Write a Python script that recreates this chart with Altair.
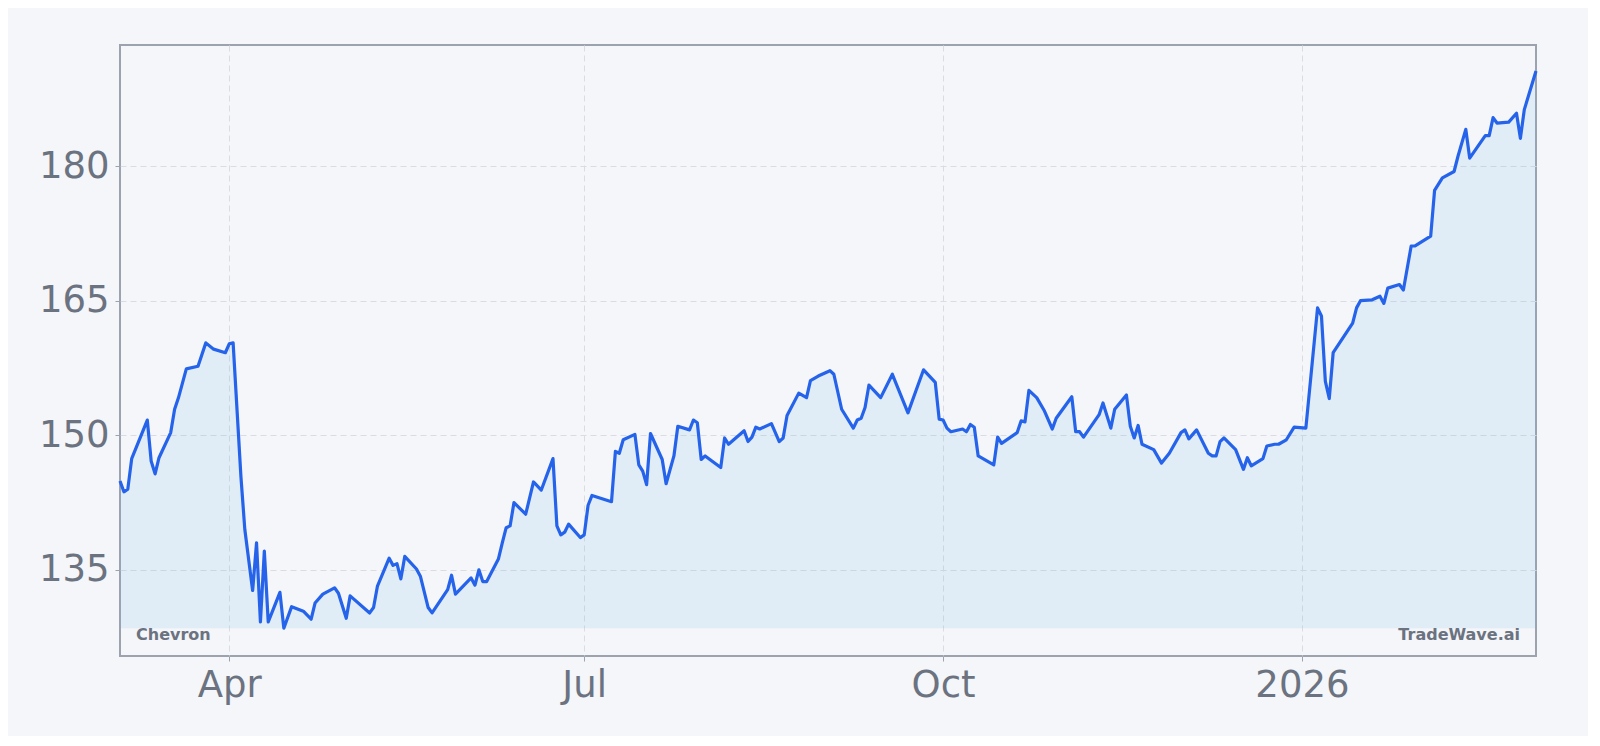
import altair as alt
import pandas as pd

# ---- data ----
dates = [
    "2025-03-04", "2025-03-05", "2025-03-06", "2025-03-07", "2025-03-11", "2025-03-12",
    "2025-03-13", "2025-03-14", "2025-03-17", "2025-03-18", "2025-03-19", "2025-03-21",
    "2025-03-24", "2025-03-26", "2025-03-28", "2025-03-31", "2025-04-01", "2025-04-02",
    "2025-04-04", "2025-04-05", "2025-04-07", "2025-04-08", "2025-04-09", "2025-04-10",
    "2025-04-11", "2025-04-14", "2025-04-15", "2025-04-17", "2025-04-20", "2025-04-22",
    "2025-04-23", "2025-04-25", "2025-04-28", "2025-04-29", "2025-05-01", "2025-05-02",
    "2025-05-07", "2025-05-08", "2025-05-09", "2025-05-12", "2025-05-13", "2025-05-14",
    "2025-05-15", "2025-05-16", "2025-05-19", "2025-05-20", "2025-05-22", "2025-05-23",
    "2025-05-27", "2025-05-28", "2025-05-29", "2025-06-02", "2025-06-03", "2025-06-04",
    "2025-06-05", "2025-06-06", "2025-06-09", "2025-06-10", "2025-06-11", "2025-06-12",
    "2025-06-13", "2025-06-16", "2025-06-18", "2025-06-20", "2025-06-23", "2025-06-24",
    "2025-06-25", "2025-06-26", "2025-06-27", "2025-06-30", "2025-07-01", "2025-07-02",
    "2025-07-03", "2025-07-08", "2025-07-09", "2025-07-10", "2025-07-11", "2025-07-14",
    "2025-07-15", "2025-07-16", "2025-07-17", "2025-07-18", "2025-07-21", "2025-07-22",
    "2025-07-24", "2025-07-25", "2025-07-28", "2025-07-29", "2025-07-30", "2025-07-31",
    "2025-08-01", "2025-08-05", "2025-08-06", "2025-08-07", "2025-08-11", "2025-08-12",
    "2025-08-13", "2025-08-14", "2025-08-15", "2025-08-18", "2025-08-20", "2025-08-21",
    "2025-08-22", "2025-08-25", "2025-08-27", "2025-08-28", "2025-08-30", "2025-09-02",
    "2025-09-03", "2025-09-05", "2025-09-08", "2025-09-09", "2025-09-10", "2025-09-11",
    "2025-09-12", "2025-09-15", "2025-09-18", "2025-09-22", "2025-09-24", "2025-09-26",
    "2025-09-29", "2025-09-30", "2025-10-01", "2025-10-02", "2025-10-03", "2025-10-06",
    "2025-10-07", "2025-10-08", "2025-10-09", "2025-10-10", "2025-10-14", "2025-10-15",
    "2025-10-16", "2025-10-20", "2025-10-21", "2025-10-22", "2025-10-23", "2025-10-25",
    "2025-10-27", "2025-10-29", "2025-10-30", "2025-11-03", "2025-11-04", "2025-11-05",
    "2025-11-06", "2025-11-10", "2025-11-11", "2025-11-13", "2025-11-14", "2025-11-17",
    "2025-11-18", "2025-11-19", "2025-11-20", "2025-11-21", "2025-11-24", "2025-11-26",
    "2025-11-28", "2025-12-01", "2025-12-02", "2025-12-03", "2025-12-05", "2025-12-08",
    "2025-12-09", "2025-12-10", "2025-12-11", "2025-12-12", "2025-12-15", "2025-12-17",
    "2025-12-18", "2025-12-19", "2025-12-22", "2025-12-23", "2025-12-25", "2025-12-26",
    "2025-12-28", "2025-12-30", "2026-01-02", "2026-01-05", "2026-01-06", "2026-01-07",
    "2026-01-08", "2026-01-09", "2026-01-14", "2026-01-15", "2026-01-16", "2026-01-19",
    "2026-01-21", "2026-01-22", "2026-01-23", "2026-01-26", "2026-01-27", "2026-01-29",
    "2026-01-30", "2026-02-03", "2026-02-04", "2026-02-06", "2026-02-09", "2026-02-10",
    "2026-02-12", "2026-02-13", "2026-02-17", "2026-02-18", "2026-02-19", "2026-02-20",
    "2026-02-23", "2026-02-25", "2026-02-26", "2026-02-27", "2026-03-02",
]

prices = [
    144.9, 143.7, 144.0, 147.4, 151.7, 147.1,
    145.7, 147.5, 150.3, 152.9, 154.2, 157.4,
    157.7, 160.3, 159.6, 159.2, 160.2, 160.3,
    145.4, 139.5, 132.7, 138.0, 129.2, 137.1,
    129.2, 132.5, 128.5, 130.9, 130.4, 129.5,
    131.3, 132.3, 133.0, 132.4, 129.6, 132.1,
    130.2, 130.8, 133.2, 136.3, 135.5, 135.7,
    134.0, 136.5, 135.1, 134.3, 130.8, 130.2,
    132.8, 134.4, 132.3, 134.1, 133.3, 135.0,
    133.7, 133.7, 136.2, 138.0, 139.7, 139.9,
    142.5, 141.2, 144.8, 143.9, 147.4, 139.9,
    138.9, 139.2, 140.1, 138.6, 138.9, 142.2,
    143.3, 142.6, 148.2, 148.0, 149.5, 150.1,
    146.7, 146.0, 144.5, 150.2, 147.3, 144.6,
    147.7, 151.0, 150.6, 151.7, 151.4, 147.3,
    147.7, 146.4, 149.7, 149.0, 150.5, 149.3,
    149.8, 150.9, 150.7, 151.3, 149.3, 149.7,
    152.2, 154.7, 154.2, 156.1, 156.6, 157.2,
    156.8, 152.9, 150.8, 151.7, 151.9, 153.1,
    155.6, 154.2, 156.8, 152.5, 154.9, 157.3,
    155.9, 151.8, 151.7, 150.8, 150.4, 150.7,
    150.4, 151.2, 150.9, 147.7, 146.7, 149.8,
    149.1, 150.3, 151.6, 151.5, 155.0, 154.2,
    152.7, 150.7, 151.9, 154.3, 150.4, 150.4,
    149.8, 152.3, 153.6, 150.8, 152.9, 154.5,
    151.0, 149.7, 151.1, 149.0, 148.4, 146.9,
    148.0, 150.3, 150.6, 149.6, 150.6, 148.0,
    147.7, 147.7, 149.3, 149.7, 148.4, 146.2,
    147.5, 146.6, 147.4, 148.8, 149.0, 149.0,
    149.5, 150.9, 150.8, 164.2, 163.3, 156.0,
    154.1, 159.2, 162.5, 164.2, 165.0, 165.1,
    165.5, 164.7, 166.4, 166.8, 166.2, 171.1,
    171.1, 172.2, 177.3, 178.7, 179.4, 181.1,
    184.1, 180.9, 183.4, 183.4, 185.4, 184.8,
    184.9, 185.9, 183.1, 186.3, 190.6,
]

y_ticks = [135, 150, 165, 180]
y_domain = [125.4, 193.5]
left_label = ["Chevron"]
right_label = ["TradeWave.ai"]

df = pd.DataFrame({"date": dates, "price": prices})
base_price = min(prices)

W, H = 1416, 611
BLUE = "#2563eb"
GRAY_TEXT = "#6b7280"

x_enc = alt.X(
    "date:T",
    title=None,
    scale=alt.Scale(type="utc", nice=False),
    axis=alt.Axis(
        tickCount={"interval": "month", "step": 3},
        labelExpr="utcmonth(datum.value) == 0 ? utcFormat(datum.value, '%Y') : utcFormat(datum.value, '%b')",
    ),
)
y_enc = alt.Y(
    "price:Q",
    title=None,
    scale=alt.Scale(domain=y_domain, nice=False, zero=False),
    axis=alt.Axis(values=y_ticks),
)

area = alt.Chart(df).mark_area(color="#75b3e5", opacity=0.15).encode(
    x=x_enc, y=y_enc, y2=alt.datum(base_price)
)
line = alt.Chart(df).mark_line(color=BLUE, strokeWidth=3.2, strokeJoin="round").encode(
    x=x_enc, y=y_enc
)

txt_left = alt.Chart(pd.DataFrame({"label": left_label})).mark_text(
    align="left", baseline="alphabetic", fontSize=16, fontWeight="bold",
    font="DejaVu Sans", color=GRAY_TEXT,
).encode(text="label:N", x=alt.value(16), y=alt.value(H - 16))

txt_right = alt.Chart(pd.DataFrame({"label": right_label})).mark_text(
    align="right", baseline="alphabetic", fontSize=16, fontWeight="bold",
    font="DejaVu Sans", color=GRAY_TEXT,
).encode(text="label:N", x=alt.value(W - 16), y=alt.value(H - 16))

chart = (
    alt.layer(area, line, txt_left, txt_right)
    .properties(
        width=W,
        height=H,
        autosize=alt.AutoSizeParams(type="none"),
        padding={"left": 112, "top": 37, "right": 52, "bottom": 80},
        background="#f4f6f9",
    )
    .configure_view(stroke="#9ca3af", strokeWidth=2)
    .configure_axis(
        labelFont="DejaVu Sans",
        labelFontSize=37,
        labelColor=GRAY_TEXT,
        domain=False,
        ticks=True,
        tickColor="#9ca3af",
        tickSize=5,
        labelPadding=6,
        grid=True,
        gridColor="#d9dde3",
        gridDash=[6, 4],
        gridWidth=1,
    )
)

chart.save("out.html", embed_options={"renderer": "svg", "actions": False})
